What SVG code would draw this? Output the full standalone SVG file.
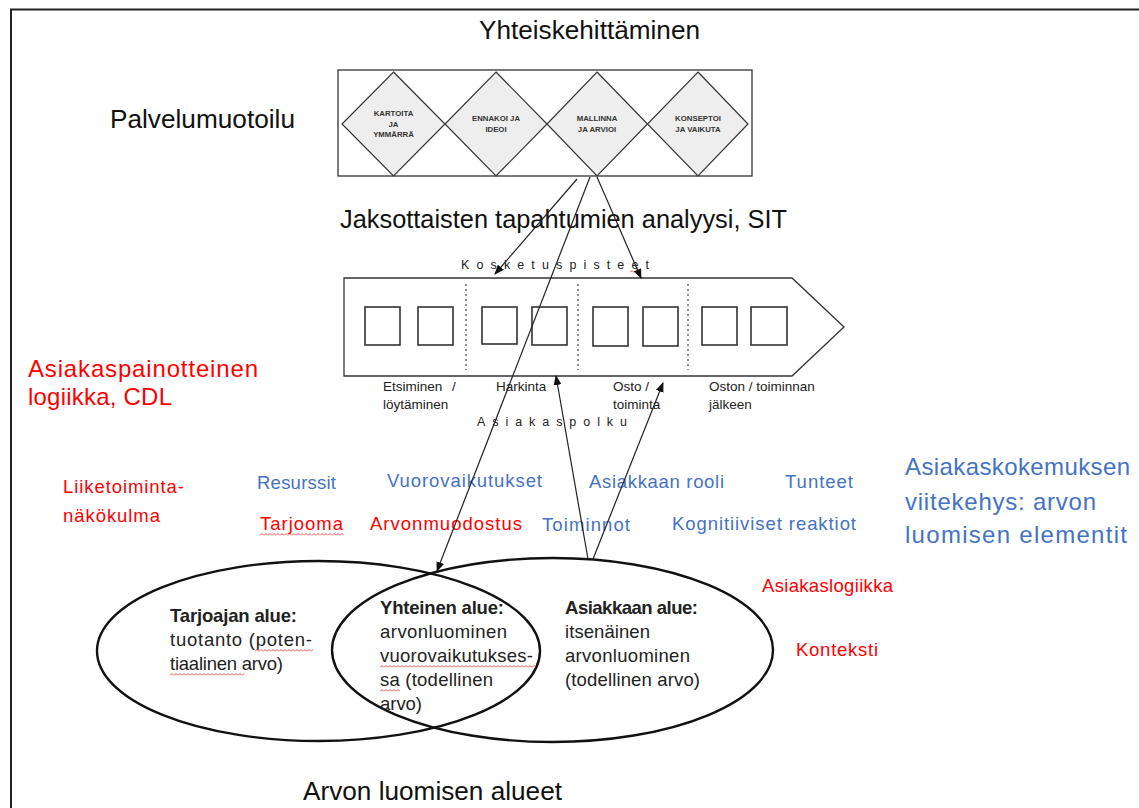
<svg xmlns="http://www.w3.org/2000/svg" width="1139" height="808" viewBox="0 0 1139 808">
  <style>
    text { font-family: "Liberation Sans", Arial, sans-serif; }
    .head { font-size: 25px; fill: #111; }
    .diam { font-size: 7.8px; font-weight: bold; fill: #333; text-anchor: middle; }
    .small { font-size: 13.5px; fill: #222; }
    .spaced { font-size: 12.5px; fill: #222; }
    .body { font-size: 18.5px; fill: #222; }
    .bold { font-weight: bold; }
    .red { font-size: 18.5px; fill: #ff0000; }
    .blue { font-size: 18.5px; fill: #4472c4; }
    .bigred { font-size: 24px; fill: #ff0000; }
    .bigblue { font-size: 24px; fill: #4472c4; }
    .frame { stroke: #222; stroke-width: 2; fill: none; }
    .box { stroke: #333; stroke-width: 1.3; fill: #fff; }
    .diamond { stroke: #333; stroke-width: 1.2; fill: #eeeeee; }
    .sq { stroke: #333; stroke-width: 1.6; fill: #fff; }
    .divider { stroke: #444; stroke-width: 1.2; stroke-dasharray: 2 3; }
    .venn { stroke: #111; stroke-width: 2.4; fill: none; }
    .conn { stroke: #222; stroke-width: 1.2; fill: none; }
  </style>
  <defs>
    <marker id="arrow" markerUnits="userSpaceOnUse" markerWidth="10" markerHeight="8" refX="9" refY="4" orient="auto">
      <path d="M0,0 L10,4 L0,8 z" fill="#111"/>
    </marker>
    <pattern id="wavy" width="4" height="3" patternUnits="userSpaceOnUse">
      <path d="M0,2.5 L2,0.5 L4,2.5" stroke="#e02020" stroke-width="0.8" fill="none"/>
    </pattern>
  </defs>

  <rect width="1139" height="808" fill="#fff"/>

  <!-- page frame (top and left edges) -->
  <path class="frame" d="M11,808 L11,9.5 L1139,9.5"/>

  <!-- headings -->
  <g id="title">
    <text class="head" x="479" y="39" textLength="221" lengthAdjust="spacingAndGlyphs">Yhteiskehittäminen</text>
  </g>
  <g id="palvelumuotoilu-label">
    <text class="head" x="110" y="128" textLength="185" lengthAdjust="spacingAndGlyphs">Palvelumuotoilu</text>
  </g>
  <g id="sit-label">
    <text class="head" x="340" y="228" textLength="447" lengthAdjust="spacingAndGlyphs">Jaksottaisten tapahtumien analyysi, SIT</text>
  </g>

  <!-- service design process: four diamond phases -->
  <g id="design-process">
    <rect class="box" x="338" y="70" width="414" height="106"/>
    <g id="phase-1">
      <polygon class="diamond" points="393.5,72 445,124 393.5,176 342,124"/>
      <text class="diam" x="393.5" y="116">KARTOITA</text>
      <text class="diam" x="393.5" y="127">JA</text>
      <text class="diam" x="393.5" y="137">YMMÄRRÄ</text>
    </g>
    <g id="phase-2">
      <polygon class="diamond" points="496,72 547,124 496,176 445,124"/>
      <text class="diam" x="496" y="121">ENNAKOI JA</text>
      <text class="diam" x="496" y="132">IDEOI</text>
    </g>
    <g id="phase-3">
      <polygon class="diamond" points="597,72 647.5,124 597,176 547,124"/>
      <text class="diam" x="597" y="121">MALLINNA</text>
      <text class="diam" x="597" y="132">JA ARVIOI</text>
    </g>
    <g id="phase-4">
      <polygon class="diamond" points="698,72 748,124 698,176 647.5,124"/>
      <text class="diam" x="698" y="121">KONSEPTOI</text>
      <text class="diam" x="698" y="132">JA VAIKUTA</text>
    </g>
  </g>

  <!-- customer journey arrow with touchpoints -->
  <g id="customer-journey">
    <text class="spaced" x="461" y="269" textLength="188" lengthAdjust="spacing">Kosketuspisteet</text>
    <g transform="translate(630,270)"><rect width="10" height="3" fill="url(#wavy)"/></g>
    <path class="box" stroke-width="1.6" d="M344,278 L792,278 L844,327 L792,376 L344,376 Z"/>
    <line class="divider" x1="466" y1="284" x2="466" y2="370"/>
    <line class="divider" x1="578" y1="284" x2="578" y2="370"/>
    <line class="divider" x1="688" y1="284" x2="688" y2="370"/>
    <rect class="sq" x="365" y="307" width="35" height="38"/>
    <rect class="sq" x="418" y="307" width="35" height="38"/>
    <rect class="sq" x="482" y="307" width="35" height="37"/>
    <rect class="sq" x="532" y="307" width="35" height="38"/>
    <rect class="sq" x="593" y="307" width="35" height="39"/>
    <rect class="sq" x="643" y="307" width="35" height="39"/>
    <rect class="sq" x="702" y="307" width="35" height="38"/>
    <rect class="sq" x="751" y="307" width="36" height="38"/>
    <text class="small" x="383" y="391">Etsiminen</text>
    <text class="small" x="452" y="391">/</text>
    <text class="small" x="383" y="409">löytäminen</text>
    <text class="small" x="496" y="391">Harkinta</text>
    <text class="small" x="613" y="391">Osto /</text>
    <text class="small" x="613" y="409">toiminta</text>
    <text class="small" x="709" y="391">Oston / toiminnan</text>
    <text class="small" x="709" y="409">jälkeen</text>
    <text class="spaced" x="477" y="426" textLength="150" lengthAdjust="spacing">Asiakaspolku</text>
  </g>

  <!-- customer-dominant logic labels -->
  <g id="cdl-label">
    <text class="bigred" x="28" y="377" textLength="230">Asiakaspainotteinen</text>
    <text class="bigred" x="28" y="405" textLength="144">logiikka, CDL</text>
  </g>

  <g id="value-elements">
    <text class="red" x="63" y="493" textLength="121">Liiketoiminta-</text>
    <text class="red" x="63" y="522" textLength="97">näkökulma</text>
    <text class="blue" x="257" y="489" textLength="79">Resurssit</text>
    <text class="red" x="260" y="530" textLength="83">Tarjooma</text>
    <g transform="translate(260,533)"><rect width="84" height="3" fill="url(#wavy)"/></g>
    <text class="blue" x="387" y="487" textLength="155">Vuorovaikutukset</text>
    <text class="red" x="370" y="530" textLength="152">Arvonmuodostus</text>
    <text class="blue" x="589" y="488" textLength="135">Asiakkaan rooli</text>
    <text class="blue" x="542" y="531" textLength="88">Toiminnot</text>
    <text class="blue" x="785" y="488" textLength="68">Tunteet</text>
    <text class="blue" x="672" y="530" textLength="184">Kognitiiviset reaktiot</text>
    <text class="red" x="762" y="592" textLength="131">Asiakaslogiikka</text>
    <text class="red" x="796" y="656" textLength="82">Konteksti</text>
  </g>

  <g id="experience-framework-label">
    <text class="bigblue" x="905" y="475" textLength="225">Asiakaskokemuksen</text>
    <text class="bigblue" x="905" y="510" textLength="191">viitekehys: arvon</text>
    <text class="bigblue" x="905" y="543" textLength="222">luomisen elementit</text>
  </g>

  <!-- value creation spheres -->
  <g id="provider-sphere">
    <ellipse class="venn" cx="318.5" cy="651" rx="221.5" ry="90"/>
    <text class="body bold" x="170" y="622" textLength="127">Tarjoajan alue:</text>
    <text class="body" x="170" y="646" textLength="142">tuotanto (poten-</text>
    <text class="body" x="170" y="670" textLength="113">tiaalinen arvo)</text>
    <g transform="translate(255,649)"><rect width="58" height="3" fill="url(#wavy)"/></g>
    <g transform="translate(170,673)"><rect width="74" height="3" fill="url(#wavy)"/></g>
  </g>
  <g id="customer-sphere">
    <ellipse class="venn" cx="552.5" cy="650" rx="220.5" ry="92"/>
    <text class="body bold" x="565" y="614" textLength="133">Asiakkaan alue:</text>
    <text class="body" x="565" y="638" textLength="85">itsenäinen</text>
    <text class="body" x="565" y="662" textLength="125">arvonluominen</text>
    <text class="body" x="565" y="686" textLength="135">(todellinen arvo)</text>
  </g>
  <g id="joint-sphere">
    <text class="body bold" x="380" y="614" textLength="124">Yhteinen alue:</text>
    <text class="body" x="380" y="638" textLength="127">arvonluominen</text>
    <text class="body" x="380" y="662" textLength="153">vuorovaikutukses-</text>
    <text class="body" x="380" y="686" textLength="113">sa (todellinen</text>
    <text class="body" x="380" y="710" textLength="42">arvo)</text>
    <g transform="translate(380,665)"><rect width="156" height="3" fill="url(#wavy)"/></g>
    <g transform="translate(380,689)"><rect width="20" height="3" fill="url(#wavy)"/></g>
  </g>

  <g id="spheres-label">
    <text class="head" x="303" y="800" textLength="259" lengthAdjust="spacingAndGlyphs">Arvon luomisen alueet</text>
  </g>

  <!-- connectors -->
  <g id="connectors">
    <line class="conn" x1="577" y1="179" x2="495" y2="274" marker-end="url(#arrow)"/>
    <line class="conn" x1="590" y1="177" x2="437" y2="571" marker-end="url(#arrow)"/>
    <line class="conn" x1="597" y1="177" x2="641" y2="278" marker-end="url(#arrow)"/>
    <line class="conn" x1="588" y1="559" x2="556" y2="376" marker-end="url(#arrow)"/>
    <line class="conn" x1="593" y1="559" x2="663" y2="383" marker-end="url(#arrow)"/>
  </g>
</svg>
